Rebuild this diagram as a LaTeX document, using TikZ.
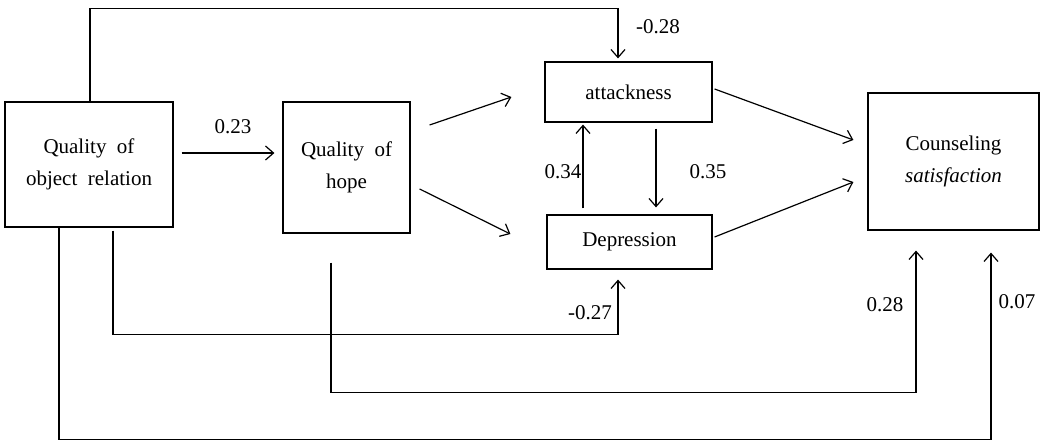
\documentclass[tikz,border=0pt]{standalone}
\usepackage{fontspec}
\setmainfont{Liberation Serif}
\usetikzlibrary{arrows.meta}

\begin{document}
\begin{tikzpicture}[x=1pt,y=1pt,line width=1.2pt,
        >={Straight Barb[length=8pt,width=14pt,line width=1.2pt]},
        box/.style={draw,align=center,inner sep=0pt,font=\fontsize{21}{32}\selectfont},
        coef/.style={font=\fontsize{21}{25}\selectfont}]
        \useasboundingbox (0,0) rectangle (1064,441);
        \node[box,minimum width=168,minimum height=125] (qor) at (89,276.5) {Quality\ \ of\\object\ \ relation};
        \node[box,minimum width=127,minimum height=131] (hope) at (346.5,273.5) {Quality\ \ of\\hope};
        \node[box,minimum width=167,minimum height=60] (att) at (628.5,349) {attackness};
        \node[box,minimum width=165,minimum height=54] (dep) at (629.5,199) {Depression};
        \node[box,minimum width=171,minimum height=137] (cs) at (953.5,279.5) {Counseling\\\textit{satisfaction}};
        \draw[->] ([shift={(8,11.5)}]qor.east) -- ([shift={(-8,14.5)}]hope.west);
        \draw[->] ([shift={(19,42.5)}]hope.east) -- ([shift={(-33,-5)}]att.west);
        \draw[->] ([shift={(9,-21.5)}]hope.east) -- ([shift={(-36,8)}]dep.west);
        \draw[->] ([shift={(2,3)}]att.east) -- ([shift={(-14,21.5)}]cs.west);
        \draw[->] ([shift={(2,5)}]dep.east) -- ([shift={(-14,-20.5)}]cs.west);
        \draw[->] ([shift={(-46.5,6)}]dep.north) -- ([shift={(-45.5,-2)}]att.south);
        \draw[->] ([shift={(27.5,-6)}]att.south) -- ([shift={(26.5,7)}]dep.north);
        \draw[->] ([xshift=1]qor.north) |- ([shift={(-10.5,53)}]att.north) -- ([shift={(-10.5,3)}]att.north);
        \draw[->] ([shift={(24,-3)}]qor.south) |- ([shift={(-11.5,-65)}]dep.south) -- ([shift={(-11.5,-10)}]dep.south);
        \draw[->] ([shift={(-15.5,-29)}]hope.south) |- ([shift={(-37.5,-162)}]cs.south) -- ([shift={(-37.5,-20)}]cs.south);
        \draw[->] ([xshift=-30]qor.south) |- ([shift={(37.5,-209)}]cs.south) -- ([shift={(37.5,-22)}]cs.south);
        \node[coef] (c1) at (233,314) {0.23};
        \node[coef] (c2) at (658,414) {-0.28};
        \node[coef] (c3) at (563,269) {0.34};
        \node[coef] (c4) at (708,269) {0.35};
        \node[coef] (c5) at (590,128) {-0.27};
        \node[coef] (c6) at (885,136) {0.28};
        \node[coef] (c7) at (1017,139) {0.07};
    \end{tikzpicture}
\end{document}
